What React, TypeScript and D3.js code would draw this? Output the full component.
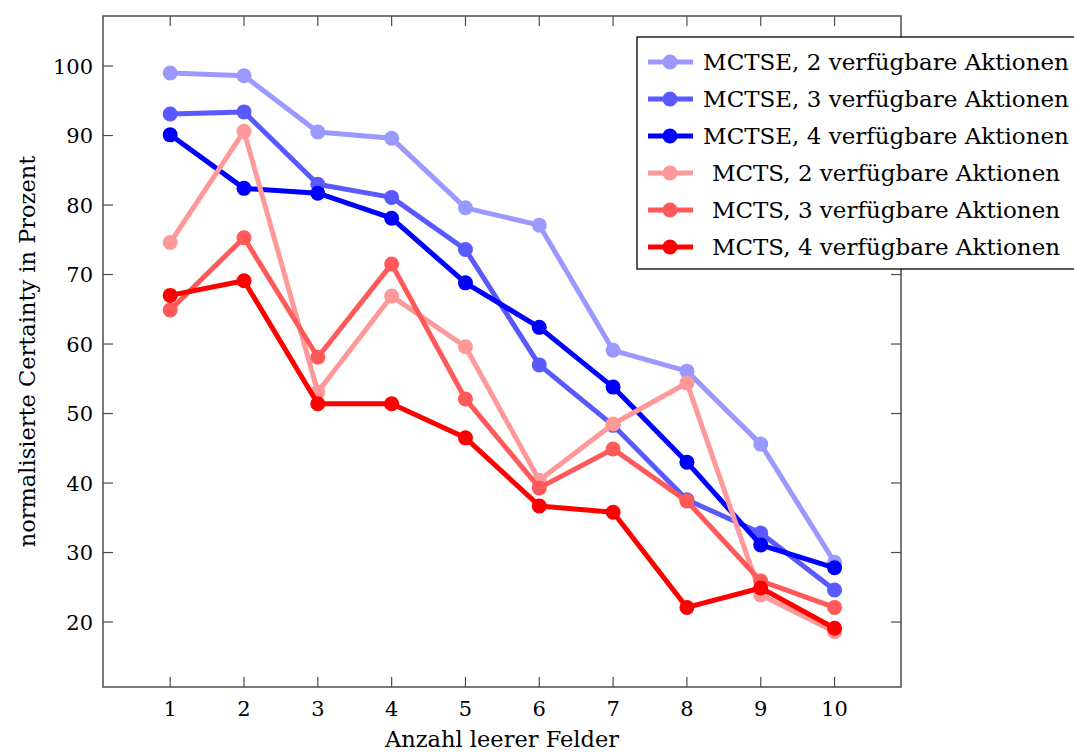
import React from "react";
import * as d3 from "d3";

const xValues = [1, 2, 3, 4, 5, 6, 7, 8, 9, 10];
const seriesNames = [
  "MCTSE, 2 verfügbare Aktionen",
  "MCTSE, 3 verfügbare Aktionen",
  "MCTSE, 4 verfügbare Aktionen",
  "MCTS, 2 verfügbare Aktionen",
  "MCTS, 3 verfügbare Aktionen",
  "MCTS, 4 verfügbare Aktionen",
];
const seriesColors = ["#9999ff", "#5959ff", "#0000ff", "#ff9999", "#ff5959", "#ff0000"];
const mctse2 = [99.0, 98.6, 90.5, 89.6, 79.6, 77.1, 59.1, 56.1, 45.6, 28.6];
const mctse3 = [93.1, 93.4, 83.0, 81.1, 73.6, 57.0, 48.3, 37.6, 32.8, 24.6];
const mctse4 = [90.1, 82.4, 81.7, 78.1, 68.8, 62.4, 53.8, 43.0, 31.1, 27.8];
const mcts2 = [74.6, 90.6, 53.1, 66.9, 59.6, 40.4, 48.5, 54.4, 23.9, 18.6];
const mcts3 = [64.9, 75.3, 58.1, 71.5, 52.1, 39.3, 44.9, 37.4, 25.9, 22.1];
const mcts4 = [67.0, 69.1, 51.4, 51.4, 46.5, 36.7, 35.8, 22.1, 24.9, 19.1];
const seriesValues = [mctse2, mctse3, mctse4, mcts2, mcts3, mcts4];
const yTicks = [20, 30, 40, 50, 60, 70, 80, 90, 100];
const xLabel = "Anzahl leerer Felder";
const yLabel = "normalisierte Certainty in Prozent";

const W = 1074;
const H = 752;
const left = 103;
const right = 901;
const top = 16;
const bottom = 687;
const font = "'DejaVu Serif', 'Liberation Serif', serif";

export default function App() {
  const x = d3.scaleLinear().domain([0.09, 10.9]).range([left, right]);
  const y = d3.scaleLinear().domain([10.65, 107.2]).range([bottom, top]);
  const line = d3
    .line<number>()
    .x((_, i) => x(xValues[i]))
    .y((d) => y(d));
  const axisColor = "#4d4d4d";
  const tickLen = 10;
  const legX = 637;
  const legY = 37;
  const rowH = 37;
  return (
    <svg width={W} height={H} style={{ position: "absolute", left: 0, top: 0, background: "#fff" }}>
      <rect x={0} y={0} width={W} height={H} fill="#fff" />
      {/* ticks */}
      {xValues.map((v) => (
        <g key={"xt" + v}>
          <line x1={x(v)} x2={x(v)} y1={bottom} y2={bottom - tickLen} stroke={axisColor} strokeWidth={1.2} />
          <line x1={x(v)} x2={x(v)} y1={top} y2={top + tickLen} stroke={axisColor} strokeWidth={1.2} />
          <text x={x(v)} y={bottom + 29} textAnchor="middle" fontFamily={font} fontSize={21} fill="#000">
            {v}
          </text>
        </g>
      ))}
      {yTicks.map((v) => (
        <g key={"yt" + v}>
          <line x1={left} x2={left + tickLen} y1={y(v)} y2={y(v)} stroke={axisColor} strokeWidth={1.2} />
          <line x1={right} x2={right - tickLen} y1={y(v)} y2={y(v)} stroke={axisColor} strokeWidth={1.2} />
          <text x={left - 10} y={y(v) + 7.5} textAnchor="end" fontFamily={font} fontSize={21} fill="#000">
            {v}
          </text>
        </g>
      ))}
      {/* series */}
      {seriesValues.map((vals, s) => (
        <g key={"s" + s}>
          <path d={line(vals) || ""} fill="none" stroke={seriesColors[s]} strokeWidth={5} strokeLinejoin="round" />
          {vals.map((v, i) => (
            <circle key={i} cx={x(xValues[i])} cy={y(v)} r={7.5} fill={seriesColors[s]} />
          ))}
        </g>
      ))}
      <rect x={left} y={top} width={right - left} height={bottom - top} fill="none" stroke={axisColor} strokeWidth={1.5} />
      {/* legend */}
      <rect x={legX} y={legY} width={460} height={232} fill="#fff" stroke="#000" strokeWidth={1.3} />
      {seriesNames.map((name, s) => {
        const cy = legY + 25 + s * rowH;
        return (
          <g key={"l" + s}>
            <line x1={648} x2={693} y1={cy} y2={cy} stroke={seriesColors[s]} strokeWidth={5} />
            <circle cx={670} cy={cy} r={7.5} fill={seriesColors[s]} />
            <text x={886} y={cy + 8} textAnchor="middle" fontFamily={font} fontSize={23} fill="#000">
              {name}
            </text>
          </g>
        );
      })}
      <text x={(left + right) / 2} y={747} textAnchor="middle" fontFamily={font} fontSize={22.5} fill="#000">
        {xLabel}
      </text>
      <text
        transform={`translate(35, ${(top + bottom) / 2}) rotate(-90)`}
        textAnchor="middle"
        fontFamily={font}
        fontSize={22.5}
        fill="#000"
      >
        {yLabel}
      </text>
    </svg>
  );
}
